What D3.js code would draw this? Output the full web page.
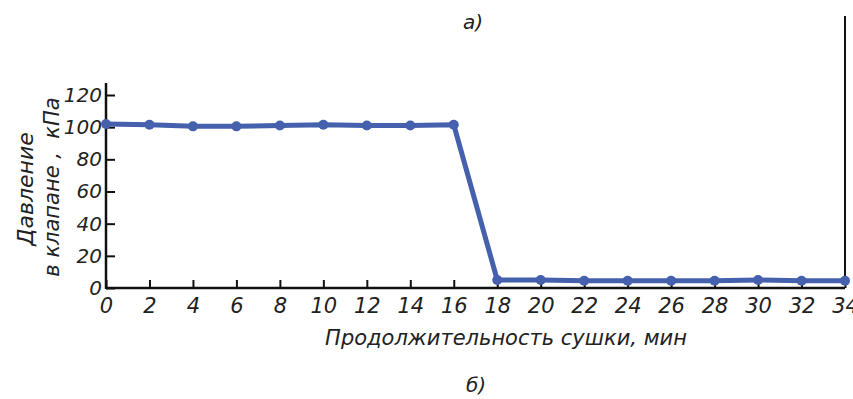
<!DOCTYPE html>
<html>
<head>
<meta charset="utf-8">
<script src="https://cdn.jsdelivr.net/npm/d3@7"></script>
<style>
  body { margin: 0; background: #fff; }
  text { font-family: "DejaVu Sans", sans-serif; font-style: italic; fill: #222; }
</style>
</head>
<body>
<script>
// data
var times = [0, 2, 4, 6, 8, 10, 12, 14, 16, 18, 20, 22, 24, 26, 28, 30, 32, 34];
var pressure = [102, 101.5, 100.5, 100.5, 101, 101.5, 101, 101, 101.5, 5, 5, 4.5, 4.5, 4.5, 4.5, 5, 4.5, 4.5];
var xTicks = [0, 2, 4, 6, 8, 10, 12, 14, 16, 18, 20, 22, 24, 26, 28, 30, 32, 34];
var yTicks = [0, 20, 40, 60, 80, 100, 120];

var width = 853, height = 399;

var x = d3.scaleLinear().domain([0, 34]).range([106, 845]);
var y = d3.scaleLinear().domain([0, 120]).range([288, 95]);

var svg = d3.select("body").append("svg")
    .attr("width", width)
    .attr("height", height);

// axes
var xAxis = svg.append("g")
    .attr("transform", "translate(0," + y(0) + ")")
    .call(d3.axisBottom(x).tickValues(xTicks).tickSize(-8).tickSizeOuter(0).tickPadding(10));
xAxis.select(".domain").remove();
xAxis.selectAll("line").attr("stroke", "#111").attr("stroke-width", 2);
xAxis.selectAll("text").attr("font-size", 21).attr("fill", "#222")
    .attr("font-family", "DejaVu Sans Condensed, DejaVu Sans").attr("font-style", "italic");

var yAxis = svg.append("g")
    .attr("transform", "translate(" + x(0) + ",0)")
    .call(d3.axisLeft(y).tickValues(yTicks).tickSize(-9).tickSizeOuter(0).tickPadding(4));
yAxis.select(".domain").remove();
yAxis.selectAll("line").attr("stroke", "#111").attr("stroke-width", 2);
yAxis.selectAll("text").attr("font-size", 20).attr("fill", "#222")
    .attr("font-family", "DejaVu Sans Condensed, DejaVu Sans").attr("font-style", "italic");

// axis lines
svg.append("line")
    .attr("x1", x(0)).attr("x2", x(34))
    .attr("y1", y(0)).attr("y2", y(0))
    .attr("stroke", "#111").attr("stroke-width", 2.5);
svg.append("line")
    .attr("x1", x(0)).attr("x2", x(0))
    .attr("y1", y(0) + 1).attr("y2", y(120) - 12)
    .attr("stroke", "#111").attr("stroke-width", 2.5);

// right border line
svg.append("line")
    .attr("x1", x(34)).attr("x2", x(34))
    .attr("y1", 16).attr("y2", y(pressure[pressure.length - 1]))
    .attr("stroke", "#111").attr("stroke-width", 2);

// data line
var line = d3.line()
    .x(function(d, i) { return x(times[i]); })
    .y(function(d) { return y(d); });

svg.append("path")
    .datum(pressure)
    .attr("d", line)
    .attr("fill", "none")
    .attr("stroke", "#4560ad")
    .attr("stroke-width", 5)
    .attr("stroke-linejoin", "round");

svg.selectAll(".pt")
    .data(pressure)
    .enter()
    .append("circle")
    .attr("class", "pt")
    .attr("cx", function(d, i) { return x(times[i]); })
    .attr("cy", function(d) { return y(d); })
    .attr("r", 5)
    .attr("fill", "#4560ad");

// titles
svg.append("text")
    .attr("x", 473).attr("y", 29)
    .attr("text-anchor", "middle")
    .attr("font-size", 20)
    .text("а)");

svg.append("text")
    .attr("x", 476).attr("y", 392)
    .attr("text-anchor", "middle")
    .attr("font-size", 20)
    .text("б)");

svg.append("text")
    .attr("x", 506).attr("y", 345)
    .attr("text-anchor", "middle")
    .attr("font-size", 21)
    .text("Продолжительность сушки, мин");

svg.append("text")
    .attr("transform", "translate(33,189) rotate(-90)")
    .attr("text-anchor", "middle")
    .attr("font-size", 22)
    .text("Давление");

svg.append("text")
    .attr("transform", "translate(59,187) rotate(-90)")
    .attr("text-anchor", "middle")
    .attr("font-size", 21)
    .style("white-space", "pre")
    .text("в клапане ,  кПа");
</script>
</body>
</html>
